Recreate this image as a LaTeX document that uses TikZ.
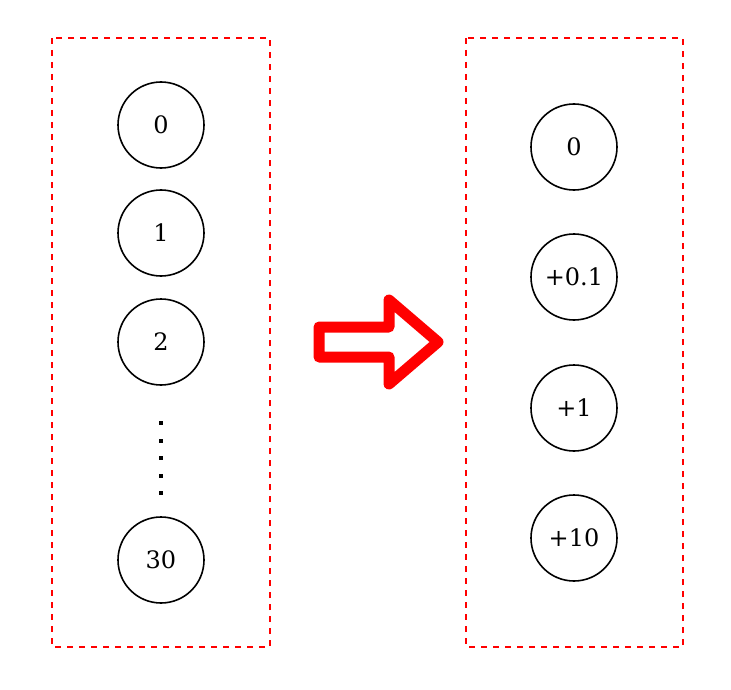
\documentclass[tikz,border=0pt]{standalone}
\usepackage{fontspec}
\setmainfont{DejaVu Serif}
\begin{document}
\begin{tikzpicture}[x=1pt,y=-1pt,
  circ/.style={draw,circle,line width=1.6pt,minimum size=86pt,inner sep=0pt,font=\fontsize{24}{26}\selectfont},
  panel/.style={draw=red,dashed,line width=1.6pt,dash pattern=on 6pt off 6pt},
  dotsq/.style={fill=black,minimum size=4pt,inner sep=0pt}]
\useasboundingbox (0,0) rectangle (731,690);
\draw[panel] (52,38) rectangle (270,647);
\draw[panel] (466,38) rectangle (683,647);
\node[circ] (l0) at (161,125) {0};
\node[circ] (l1) at (161,233) {1};
\node[circ] (l2) at (161,342) {2};
\node[circ] (l30) at (161,560) {30};
\foreach \y/\n in {423/d1,441/d2,458/d3,476/d4,493/d5}
  \node[dotsq] (\n) at (161,\y) {};
\node[circ] (r0) at (574,147) {0};
\node[circ] (r1) at (574,277) {+0.1};
\node[circ] (r2) at (574,408) {+1};
\node[circ] (r3) at (574,538) {+10};
\draw[red,line width=11pt,line join=round,line cap=round]
  (319,327) -- (389,327) -- (389,300) -- (438,342) -- (389,384) -- (389,357) -- (319,357) -- cycle;
\end{tikzpicture}
\end{document}
